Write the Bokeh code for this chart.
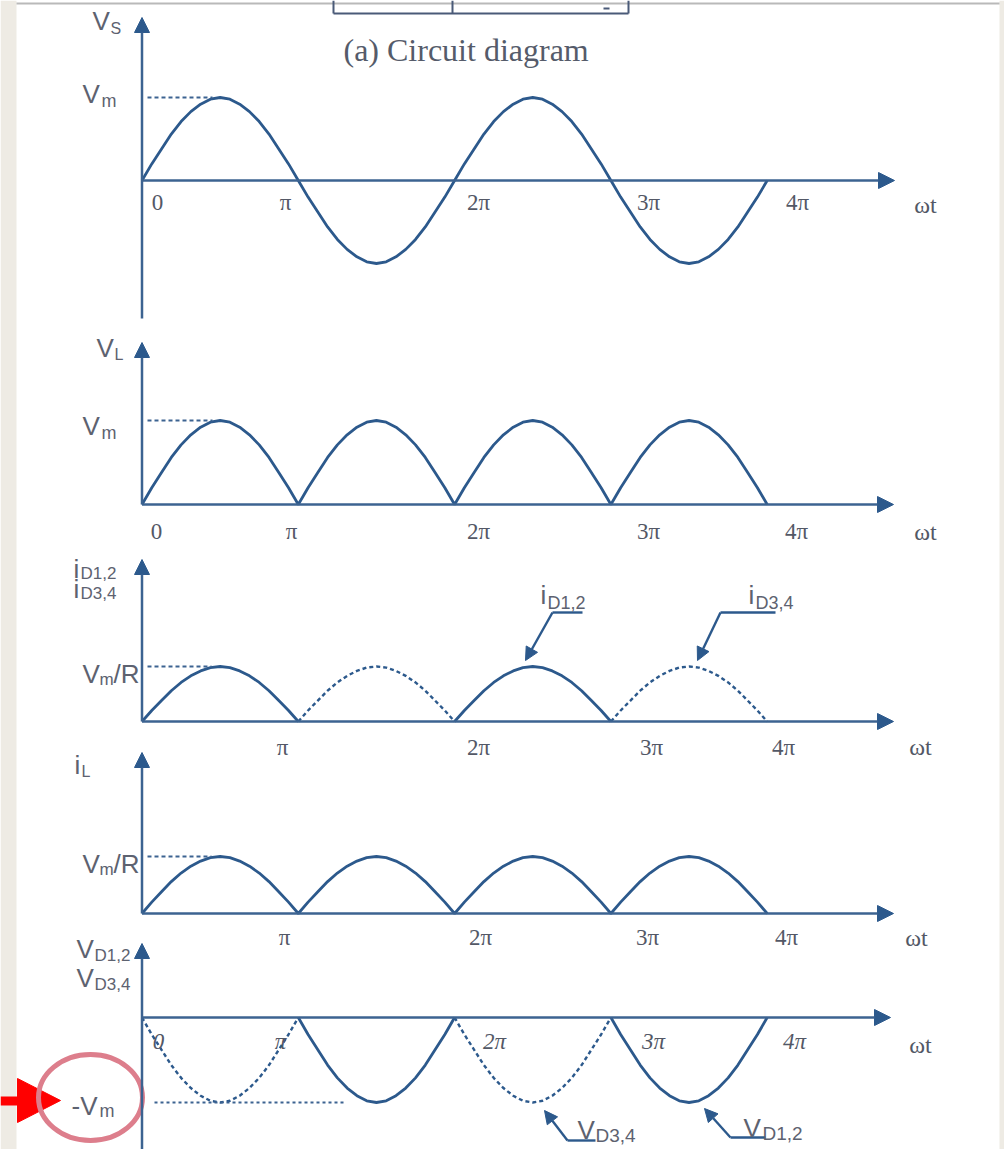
import numpy as np
from bokeh.plotting import figure
from bokeh.models import Range1d, Arrow, NormalHead
from bokeh.core.properties import value
from bokeh.embed import file_html
from bokeh.resources import INLINE

PI = np.pi

# ---------------- data ----------------
# one half-cycle of each waveform, sampled at fractions of pi (normalised height)
hump_fraction = [0.0, 0.0625, 0.125, 0.1875, 0.25, 0.3125, 0.375, 0.4375, 0.5,
                 0.5625, 0.625, 0.6875, 0.75, 0.8125, 0.875, 0.9375, 1.0]
hump_height = [0.0, 0.20, 0.38, 0.56, 0.71, 0.83, 0.92, 0.98, 1.0,
               0.98, 0.92, 0.83, 0.71, 0.56, 0.38, 0.20, 0.0]
half_cycles = [0, 1, 2, 3]
vs_sign = [1, -1, 1, -1]          # source voltage Vs
vl_sign = [1, 1, 1, 1]            # load voltage VL
il_sign = [1, 1, 1, 1]            # load current iL
id12_cycles = [0, 2]              # iD1,2 conducts (solid)
id34_cycles = [1, 3]              # iD3,4 conducts (dashed)
vd12_cycles = [1, 3]              # VD1,2 reverse voltage (solid)
vd34_cycles = [0, 2]              # VD3,4 reverse voltage (dashed)
vd_sign = -1
tick_multiples = [0, 1, 2, 3, 4]  # multiples of pi
tick_labels = ["0", "π", "2π", "3π", "4π"]

# ---------------- layout ----------------
W, H = 1004, 1149
X0 = 141.5            # pixel of wt = 0
PX_PER_PI = 156.3     # pixels per pi
CURVE = "#2c598c"
AXIS = "#3c6391"
LABEL = "#5d6270"
TICK = "#535866"
MAIN = 26
SUB = 17


def xd(X):
    return (X - X0) / PX_PER_PI * PI


def yd(Y):
    return H - Y


panels = {
    "vs": dict(base=180, amp=83),
    "vl": dict(base=504, amp=84),
    "id": dict(base=721, amp=55),
    "il": dict(base=913, amp=57),
    "vd": dict(base=1017, amp=85),
}


def pv(name, Y):
    b = panels[name]
    return (b["base"] - Y) / b["amp"]


p = figure(width=W, height=H, x_range=Range1d(xd(0), xd(W)),
           y_range=Range1d(0, H), output_backend="svg", toolbar_location=None,
           x_axis_location=None, y_axis_location=None, min_border=0)
p.grid.visible = False
p.outline_line_color = None
p.background_fill_color = "white"
p.border_fill_color = "white"

for name, b in panels.items():
    p.extra_y_ranges[name] = Range1d((b["base"] - H) / b["amp"], b["base"] / b["amp"])

# slide background strips and frame line
p.quad(left=[xd(0), xd(999)], right=[xd(16), xd(W)], top=[yd(0), yd(0)], bottom=[yd(H), yd(H)],
       fill_color="#eeebe4", line_color=None)
p.segment(x0=[xd(16)], y0=[yd(3)], x1=[xd(999)], y1=[yd(3)], line_color="#b9b9b9", line_width=2)

# fragment of the circuit box at the top
p.segment(x0=[xd(333), xd(333), xd(452), xd(628), xd(603)], y0=[yd(13), yd(0), yd(0), yd(0), yd(8)],
          x1=[xd(628), xd(333), xd(452), xd(628), xd(609)], y1=[yd(13), yd(13), yd(13), yd(13), yd(8)],
          line_color="#4a5a78", line_width=2)


def txt(X, Y, s, size, font="Liberation Sans", color=LABEL, align="left", style="normal"):
    p.text(x=[xd(X)], y=[yd(Y)], text=[s], text_font=value(font),
           text_font_size=f"{size}px", text_color=color, text_align=align,
           text_baseline="alphabetic", text_font_style=style)


txt(343, 49, "(a) Circuit diagram", 32, font="Liberation Serif", color="#555b6a")


def hump_xy(cycle, sign):
    xs = [(cycle + f) * PI for f in hump_fraction]
    ys = [sign * h for h in hump_height]
    return xs, ys


def wave(signs):
    xs, ys = [], []
    for c, s in zip(half_cycles, signs):
        hx, hy = hump_xy(c, s)
        if xs:
            hx, hy = hx[1:], hy[1:]
        xs += hx
        ys += hy
    return xs, ys


def axes(name, y_bottom, y_tip, x_tip):
    p.add_layout(Arrow(x_start=0, y_start=pv(name, y_bottom), x_end=0, y_end=pv(name, y_tip),
                       line_color=AXIS, line_width=2.5, y_range_name=name,
                       end=NormalHead(size=15, fill_color=CURVE, line_color=CURVE)))
    p.add_layout(Arrow(x_start=0, y_start=0, x_end=xd(x_tip), y_end=0,
                       line_color=AXIS, line_width=2.5, y_range_name=name,
                       end=NormalHead(size=16, fill_color=CURVE, line_color=CURVE)))


def ticks(name, centers, Ybase, wt_x, wt_y, first=0, style="normal"):
    for k, cx in zip(tick_multiples[first:], centers):
        txt(cx, Ybase, tick_labels[k], 23, font="Liberation Serif", color=TICK,
            align="center", style=style)
    txt(wt_x, wt_y, "ωt", 24, font="Liberation Serif", color=TICK, align="center")


def ref_dash(name, level, X1, X2, dash="4 3"):
    p.line(x=[xd(X1), xd(X2)], y=[level, level], y_range_name=name,
           line_color=AXIS, line_width=1.8, line_dash=dash)


# ---------- panel 1 : Vs ----------
axes("vs", 318, 17, 894)
x, y = wave(vs_sign)
p.line(x, y, y_range_name="vs", line_color=CURVE, line_width=2.8)
ref_dash("vs", 1.0, 147, 212)
txt(92, 20, "V", MAIN)
txt(110, 28, "S", 16)
txt(82, 93, "V", MAIN)
txt(101, 100, "m", 18)
ticks("vs", [157, 285, 478, 648, 797], 202, 925, 204)

# ---------- panel 2 : VL ----------
axes("vl", 504, 342, 893)
x, y = wave(vl_sign)
p.line(x, y, y_range_name="vl", line_color=CURVE, line_width=2.8)
ref_dash("vl", 1.0, 147, 212)
txt(96, 347, "V", MAIN)
txt(114, 354, "L", 16)
txt(82, 425, "V", MAIN)
txt(101, 432, "m", 18)
ticks("vl", [156, 291, 478, 648, 796], 531, 925, 531)

# ---------- panel 3 : diode currents ----------
axes("id", 721, 559, 893)
for c in id12_cycles:
    hx, hy = hump_xy(c, 1)
    p.line(hx, hy, y_range_name="id", line_color=CURVE, line_width=2.8)
for c in id34_cycles:
    hx, hy = hump_xy(c, 1)
    p.line(hx, hy, y_range_name="id", line_color=CURVE, line_width=2.4, line_dash="4 3")
ref_dash("id", 1.0, 147, 211)
txt(73, 568, "i", MAIN)
txt(80, 573, "D1,2", SUB)
txt(73, 588, "i", MAIN)
txt(80, 593, "D3,4", SUB)
txt(82, 673, "V", MAIN)
txt(99, 679, "m", 17)
txt(113, 673, "/R", MAIN)
ticks("id", [282, 478, 651, 783], 747, 920, 746, first=1)
# call-outs
p.segment(x0=[xd(582), xd(775)], y0=[yd(612), yd(612)], x1=[xd(552), xd(720)], y1=[yd(612), yd(612)],
          line_color=CURVE, line_width=2.4)
for (xs0, ys0, xe, ye) in [(552, 612, 525, 660), (720, 612, 697, 660)]:
    p.add_layout(Arrow(x_start=xd(xs0), y_start=yd(ys0), x_end=xd(xe), y_end=yd(ye),
                       line_color=CURVE, line_width=2.4,
                       end=NormalHead(size=13, fill_color=CURVE, line_color=CURVE)))
txt(540, 594, "i", MAIN)
txt(547, 602, "D1,2", 18)
txt(748, 594, "i", MAIN)
txt(755, 602, "D3,4", 18)

# ---------- panel 4 : iL ----------
axes("il", 913, 752, 893)
x, y = wave(il_sign)
p.line(x, y, y_range_name="il", line_color=CURVE, line_width=2.8)
ref_dash("il", 1.0, 147, 211)
txt(74, 764, "i", MAIN)
txt(81, 771, "L", 16)
txt(82, 863, "V", MAIN)
txt(99, 869, "m", 17)
txt(113, 863, "/R", MAIN)
ticks("il", [284, 480, 647, 786], 937, 916, 937, first=1)

# ---------- panel 5 : diode voltages ----------
axes("vd", H, 943, 890)
for c in vd12_cycles:
    hx, hy = hump_xy(c, vd_sign)
    p.line(hx, hy, y_range_name="vd", line_color=CURVE, line_width=2.8)
for c in vd34_cycles:
    hx, hy = hump_xy(c, vd_sign)
    p.line(hx, hy, y_range_name="vd", line_color=CURVE, line_width=2.4, line_dash="4 3")
ref_dash("vd", -1.0, 154, 346, dash="3 3")
txt(76, 948, "V", MAIN)
txt(94, 955, "D1,2", SUB)
txt(76, 977, "V", MAIN)
txt(94, 984, "D3,4", SUB)
txt(71, 1105, "-V", MAIN)
txt(99, 1110, "m", 18)
ticks("vd", [158, 280, 494, 653, 794], 1041, 920, 1044, style="italic")
p.segment(x0=[xd(567), xd(730)], y0=[yd(1140), yd(1137)], x1=[xd(595), xd(765)], y1=[yd(1140), yd(1137)],
          line_color=CURVE, line_width=2.4)
for (xs0, ys0, xe, ye) in [(567, 1140, 544, 1110), (730, 1137, 704, 1108)]:
    p.add_layout(Arrow(x_start=xd(xs0), y_start=yd(ys0), x_end=xd(xe), y_end=yd(ye),
                       line_color=CURVE, line_width=2.4,
                       end=NormalHead(size=13, fill_color=CURVE, line_color=CURVE)))
txt(577, 1129, "V", MAIN)
txt(595, 1135, "D3,4", 19)
txt(743, 1127, "V", MAIN)
txt(762, 1133, "D1,2", 19)

# ---------- highlight marks ----------
p.patch(x=[xd(17), xd(60), xd(17)], y=[yd(1078), yd(1100), yd(1122)],
        fill_color="#ff0000", line_color="#ff0000")
p.quad(left=[xd(0)], right=[xd(20)], top=[yd(1096)], bottom=[yd(1105)],
       fill_color="#ff0000", line_color=None)
p.ellipse(x=[xd(90)], y=[yd(1097)], width=[104 / PX_PER_PI * PI], height=[86],
          fill_color=None, line_color="#dd7e8c", line_width=5)

open("out.html", "w").write(file_html(p, INLINE))
